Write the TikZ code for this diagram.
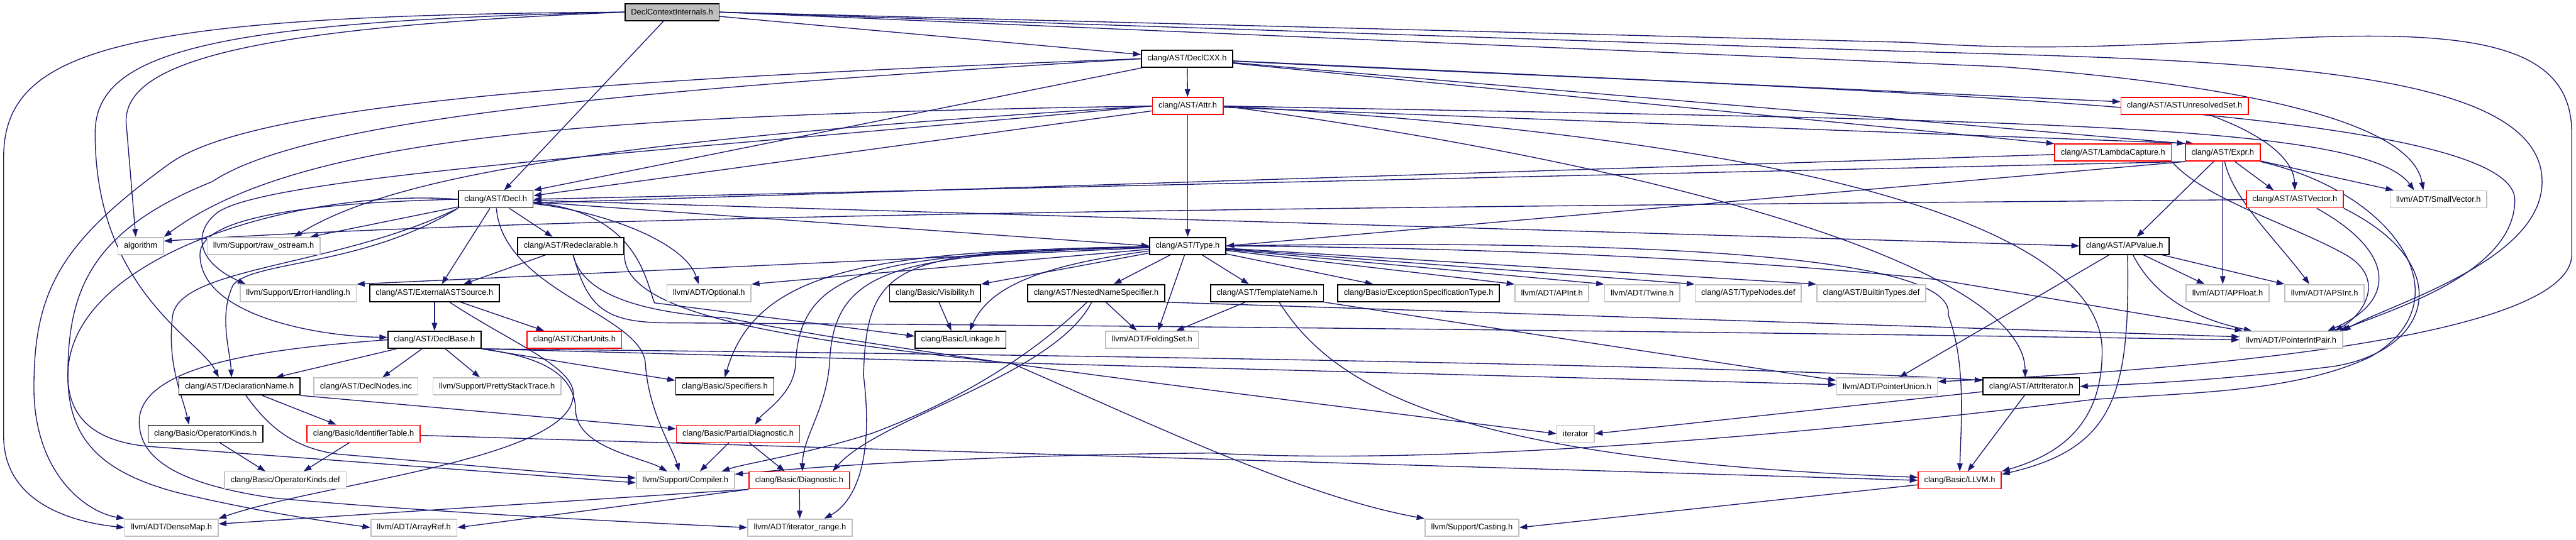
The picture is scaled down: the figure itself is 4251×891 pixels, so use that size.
\documentclass[tikz,border=0pt]{standalone}
\usepackage{fontspec}
\setmainfont{Liberation Sans}
\usepackage{tikz}
\usetikzlibrary{arrows.meta,backgrounds}
\definecolor{EdgeNavy}{HTML}{191970}
\definecolor{RootGrey}{HTML}{BFBFBF}
\definecolor{ExtGrey}{HTML}{BFBFBF}
\definecolor{CutRed}{HTML}{FF0000}

\begin{document}
\begin{tikzpicture}[x=0.01cm,y=-0.01cm,
  hdr/.style={font=\fontsize{3.8}{4.6}\selectfont,minimum height=0.28cm,inner xsep=0.1cm,inner ysep=0pt,line width=0.5pt,fill=white},
  root/.style={hdr,draw=black,fill=RootGrey},
  doc/.style={hdr,draw=black},
  ext/.style={hdr,draw=ExtGrey},
  cut/.style={hdr,draw=CutRed},
  dep/.style={EdgeNavy,line width=0.4pt,-{Triangle[length=0.13cm,width=0.09cm]}}]
  \useasboundingbox (0,0) rectangle (4251,891);
  \node[root] (dci) at (1109,20) {DeclContextInternals.h};
  \node[doc] (declcxx) at (1959,97) {clang/AST/DeclCXX.h};
  \node[cut] (attr) at (1960,175) {clang/AST/Attr.h};
  \node[cut] (unres) at (3605,175) {clang/AST/ASTUnresolvedSet.h};
  \node[cut] (lambda) at (3487,252) {clang/AST/LambdaCapture.h};
  \node[cut] (expr) at (3668,252) {clang/AST/Expr.h};
  \node[doc] (decl) at (818,329) {clang/AST/Decl.h};
  \node[cut] (astvec) at (3787,329) {clang/AST/ASTVector.h};
  \node[ext] (smallvec) at (4024,329) {llvm/ADT/SmallVector.h};
  \node[ext] (algorithm) at (232,406) {algorithm};
  \node[ext] (rawos) at (435,406) {llvm/Support/raw\_ostream.h};
  \node[doc] (redecl) at (942,406) {clang/AST/Redeclarable.h};
  \node[doc] (type) at (1960,406) {clang/AST/Type.h};
  \node[doc] (apvalue) at (3506,406) {clang/AST/APValue.h};
  \node[ext] (errh) at (492,484) {llvm/Support/ErrorHandling.h};
  \node[doc] (extsrc) at (717,484) {clang/AST/ExternalASTSource.h};
  \node[ext] (optional) at (1170,484) {llvm/ADT/Optional.h};
  \node[doc] (visib) at (1543,484) {clang/Basic/Visibility.h};
  \node[doc] (nns) at (1809,484) {clang/AST/NestedNameSpecifier.h};
  \node[doc] (tmplname) at (2091,484) {clang/AST/TemplateName.h};
  \node[doc] (exspec) at (2341,484) {clang/Basic/ExceptionSpecificationType.h};
  \node[ext] (apint) at (2561,484) {llvm/ADT/APInt.h};
  \node[ext] (twine) at (2710,484) {llvm/ADT/Twine.h};
  \node[ext] (typenodes) at (2885,484) {clang/AST/TypeNodes.def};
  \node[ext] (builtin) at (3088,484) {clang/AST/BuiltinTypes.def};
  \node[ext] (apfloat) at (3676,484) {llvm/ADT/APFloat.h};
  \node[ext] (apsint) at (3836,484) {llvm/ADT/APSInt.h};
  \node[doc] (declbase) at (717,561) {clang/AST/DeclBase.h};
  \node[cut] (charunits) at (948,561) {clang/AST/CharUnits.h};
  \node[doc] (linkage) at (1585,561) {clang/Basic/Linkage.h};
  \node[ext] (foldset) at (1901,561) {llvm/ADT/FoldingSet.h};
  \node[ext] (ptrintpair) at (3781,561) {llvm/ADT/PointerIntPair.h};
  \node[doc] (declname) at (395,638) {clang/AST/DeclarationName.h};
  \node[ext] (declnodes) at (604,638) {clang/AST/DeclNodes.inc};
  \node[ext] (prettystack) at (820,638) {llvm/Support/PrettyStackTrace.h};
  \node[doc] (specifiers) at (1196,638) {clang/Basic/Specifiers.h};
  \node[ext] (ptrunion) at (3114,638) {llvm/ADT/PointerUnion.h};
  \node[doc] (attriter) at (3352,638) {clang/AST/AttrIterator.h};
  \node[doc] (opkinds) at (339,716) {clang/Basic/OperatorKinds.h};
  \node[cut] (identtable) at (600,716) {clang/Basic/IdentifierTable.h};
  \node[cut] (partdiag) at (1218,716) {clang/Basic/PartialDiagnostic.h};
  \node[ext] (iterator) at (2600,716) {iterator};
  \node[ext] (opkindsdef) at (471,793) {clang/Basic/OperatorKinds.def};
  \node[ext] (compiler) at (1131,793) {llvm/Support/Compiler.h};
  \node[cut] (diag) at (1319,793) {clang/Basic/Diagnostic.h};
  \node[cut] (llvmh) at (3234,793) {clang/Basic/LLVM.h};
  \node[ext] (densemap) at (283,871) {llvm/ADT/DenseMap.h};
  \node[ext] (arrayref) at (683,871) {llvm/ADT/ArrayRef.h};
  \node[ext] (iterrange) at (1320,871) {llvm/ADT/iterator\_range.h};
  \node[ext] (casting) at (2429,871) {llvm/Support/Casting.h};
  \begin{scope}[on background layer]
  \fill[white] (0,0) rectangle (4251,891);
  \draw[dep] (dci) -- ([yshift=0.07cm]declcxx.west);
  \draw[dep] (dci) -- (decl);
  \draw[dep] (dci.west) .. controls (420,45) and (208,100) .. (208,200) -- ([xshift=-0.08cm]algorithm.north);
  \draw[dep] (dci.west) .. controls (330,35) and (157,90) .. (157,220) .. controls (157,480) and (330,560) .. ([xshift=-0.34cm]declname.north);
  \draw[dep] (dci.west) .. controls (200,25) and (6,80) .. (6,260) -- (6,720) .. controls (6,820) and (100,860) .. (densemap.west);
  \draw[dep] (dci.east) -- (3300,110) .. controls (3700,140) and (3980,200) .. ([xshift=-0.25cm]smallvec.north);
  \draw[dep] (dci.east) -- (3150,85) .. controls (3700,100) and (4195,110) .. (4195,300) .. controls (4195,430) and (3950,500) .. ([xshift=0.85cm]ptrintpair.north);
  \draw[dep] (dci.east) -- (3150,70) .. controls (3380,85) and (3500,75) .. (3800,62) .. controls (4100,50) and (4244,80) .. (4244,220) -- (4244,420) .. controls (4244,560) and (3600,612) .. ([yshift=0.08cm]ptrunion.east);
  \draw[dep] (declcxx) -- (attr);
  \draw[dep] (declcxx) -- ([yshift=0.07cm]unres.west);
  \draw[dep] (declcxx) -- (lambda.north west);
  \draw[dep] (declcxx) -- (expr.north west);
  \draw[dep] (declcxx) -- (decl.north east);
  \draw[dep] (declcxx.west) .. controls (1000,130) and (420,170) .. (280,270) .. controls (100,400) and (56,480) .. (56,640) .. controls (56,780) and (140,845) .. (densemap.north west);
  \draw[dep] (declcxx.west) .. controls (1000,150) and (500,200) .. (350,300) .. controls (150,380) and (112,480) .. (112,620) .. controls (112,700) and (170,730) .. (245,737) -- ([yshift=-0.04cm]compiler.west);
  \draw[dep] (declcxx) .. controls (3000,150) and (4150,170) .. (4150,330) .. controls (4150,450) and (3950,510) .. ([xshift=0.8cm]ptrintpair.north);
  \draw[dep] (attr) -- (type);
  \draw[dep] (attr) -- ([yshift=0.06cm]decl.east);
  \draw[dep] (attr) -- ([xshift=0.15cm]expr.north west);
  \draw[dep] (attr.west) .. controls (1000,190) and (500,220) .. (algorithm.north east);
  \draw[dep] (attr.west) .. controls (1000,230) and (650,290) .. ([xshift=0.5cm]rawos.north);
  \draw[dep] (attr.west) .. controls (1100,250) and (450,290) .. (360,350) .. controls (320,380) and (320,430) .. ([xshift=0.1cm]errh.north west);
  \draw[dep] (attr.east) .. controls (3300,200) and (3900,200) .. ([xshift=-0.4cm]smallvec.north);
  \draw[dep] (attr.east) .. controls (2800,280) and (3340,450) .. ([xshift=-0.1cm]attriter.north);
  \draw[dep] (attr.east) .. controls (3000,230) and (3470,380) .. (3469,580) .. controls (3469,700) and (3400,750) .. (llvmh.north east);
  \draw[dep] (expr.south west) -- (decl.east);
  \draw[dep] (expr.south west) -- (type.east);
  \draw[dep] (expr) -- ([xshift=0.2cm]apvalue.north);
  \draw[dep] (expr) -- ([xshift=-0.08cm]apfloat.north);
  \draw[dep] (expr) .. controls (3685,330) and (3760,400) .. ([xshift=-0.25cm]apsint.north);
  \draw[dep] (expr) -- ([xshift=-0.35cm]astvec.north);
  \draw[dep] (expr) -- ([xshift=-0.74cm]smallvec.north);
  \draw[dep] (expr.south east) .. controls (3960,320) and (4070,500) .. (3910,590) .. controls (3780,650) and (3600,648) .. (3450,660) .. controls (3000,715) and (2400,770) .. (2000,748) .. controls (1700,750) and (1400,765) .. ([yshift=0.1cm]compiler.east);
  \draw[dep] (lambda) -- ([yshift=-0.06cm]decl.east);
  \draw[dep] (lambda.south east) .. controls (3640,330) and (3780,370) .. (3870,420) .. controls (3940,460) and (3900,520) .. ([xshift=0.72cm]ptrintpair.north);
  \draw[dep] (unres) .. controls (3730,220) and (3785,260) .. (astvec.north);
  \draw[dep] (astvec) .. controls (2500,340) and (1000,350) .. ([yshift=0.08cm]algorithm.east);
  \draw[dep] ([xshift=0.36cm]astvec.south) .. controls (3960,420) and (3950,500) .. ([xshift=0.6cm]ptrintpair.north);
  \draw[dep] (astvec.south east) .. controls (4060,440) and (4010,580) .. (3850,605) .. controls (3650,630) and (3500,635) .. (attriter.east);
  \draw[dep] (apvalue) -- ([xshift=-0.38cm]apfloat.north);
  \draw[dep] (apvalue) -- (apsint.north west);
  \draw[dep] ([xshift=0.14cm]apvalue.south) .. controls (3560,500) and (3640,530) .. ([xshift=-0.65cm]ptrintpair.north);
  \draw[dep] ([xshift=0.05cm]apvalue.south) .. controls (3515,650) and (3490,740) .. ([yshift=0.1cm]llvmh.east);
  \draw[dep] (apvalue) -- ([xshift=0.2cm]ptrunion.north);
  \draw[dep] (type) -- (errh.north east);
  \draw[dep] (type) -- (optional.north east);
  \draw[dep] (type) -- (visib.north east);
  \draw[dep] (type) .. controls (1700,440) and (1630,480) .. ([xshift=0.15cm]linkage.north);
  \draw[dep] (type) -- (nns);
  \draw[dep] (type) -- ([xshift=0.1cm]foldset.north);
  \draw[dep] (type) -- ([xshift=-0.3cm]tmplname.north);
  \draw[dep] (type) -- ([xshift=-0.75cm]exspec.north);
  \foreach \t in {apint,twine,typenodes,builtin}{\draw[dep] (type) -- (\t.north west);}
  \draw[dep] (type) .. controls (1450,415) and (1250,440) .. (specifiers.north);
  \draw[dep] (type) .. controls (1450,420) and (1320,440) .. (1313,600) .. controls (1311,650) and (1260,680) .. ([xshift=0.28cm]partdiag.north);
  \draw[dep] (type) .. controls (1480,420) and (1375,440) .. (1369,600) .. controls (1362,680) and (1325,720) .. ([xshift=0.05cm]diag.north);
  \draw[dep] (type) .. controls (1480,415) and (1430,430) .. (1425,620) .. controls (1445,780) and (1400,835) .. ([xshift=0.4cm]iterrange.north);
  \draw[dep] (type.east) .. controls (2600,410) and (3000,440) .. (3200,462) -- ([xshift=-0.8cm]ptrintpair.north);
  \draw[dep] (type.east) .. controls (2700,395) and (3230,420) .. (3215,520) .. controls (3245,600) and (3236,700) .. (llvmh.north);
  \draw[dep] (nns) -- ([xshift=-0.25cm]foldset.north);
  \draw[dep] (nns.south east) -- ([yshift=0.05cm]ptrintpair.west);
  \draw[dep] (nns) .. controls (1690,600) and (1560,670) .. (1440,715) .. controls (1330,750) and (1230,765) .. ([xshift=0.6cm]compiler.north);
  \draw[dep] (nns) .. controls (1740,620) and (1450,690) .. ([xshift=0.55cm]diag.north);
  \draw[dep] (tmplname) -- ([xshift=0.4cm]foldset.north);
  \draw[dep] (tmplname.south east) -- ([yshift=0.1cm]ptrunion.west);
  \draw[dep] ([xshift=0.2cm]tmplname.south) .. controls (2200,640) and (2400,760) .. ([yshift=0.05cm]llvmh.west);
  \draw[dep] (visib) -- ([xshift=-0.15cm]linkage.north);
  \draw[dep] (decl) -- ([xshift=0.77cm]rawos.north);
  \draw[dep] (decl) -- ([xshift=-0.3cm]redecl.north);
  \draw[dep] (decl) -- ([xshift=0.12cm]extsrc.north);
  \draw[dep] (decl) -- (type.west);
  \draw[dep] (decl) -- (apvalue.west);
  \draw[dep] (decl) .. controls (1000,350) and (1130,400) .. ([xshift=-0.17cm]optional.north);
  \draw[dep] (decl) .. controls (1050,350) and (1065,460) .. (1080,500) -- ([yshift=0.06cm]linkage.west);
  \draw[dep] (decl.west) .. controls (500,335) and (330,360) .. (330,420) .. controls (330,520) and (520,555) .. ([yshift=0.04cm]declbase.west);
  \draw[dep] (decl.south west) .. controls (600,440) and (420,430) .. (385,470) .. controls (360,520) and (380,580) .. ([xshift=-0.13cm]declname.north);
  \draw[dep] (decl.south west) .. controls (560,440) and (300,440) .. (285,520) .. controls (275,600) and (300,650) .. ([xshift=-0.27cm]opkinds.north);
  \draw[dep] (decl) .. controls (830,480) and (1060,520) .. (1065,600) .. controls (1070,680) and (1110,740) .. ([xshift=-0.1cm]compiler.north);
  \draw[dep] (decl.west) .. controls (500,310) and (112,420) .. (112,620) .. controls (112,720) and (160,780) .. (300,815) .. controls (450,850) and (550,862) .. (arrayref.west);
  \draw[dep] (redecl) -- ([xshift=0.48cm]extsrc.north);
  \draw[dep] (redecl) .. controls (970,510) and (1000,532) .. (1100,533) .. controls (2000,538) and (3000,550) .. (ptrintpair.west);
  \draw[dep] (redecl.south east) .. controls (1030,520) and (1300,560) .. (1670,600) .. controls (1900,700) and (2150,820) .. (casting.north west);
  \draw[dep] (redecl) .. controls (960,480) and (1040,515) .. (1200,525) .. controls (1450,575) and (1800,620) .. (iterator.west);
  \draw[dep] (extsrc) -- (declbase);
  \draw[dep] (extsrc) -- ([xshift=-0.5cm]charunits.north);
  \draw[dep] ([xshift=0.25cm]extsrc.south) .. controls (850,570) and (960,610) .. (945,660) .. controls (925,760) and (520,800) .. (densemap.north east);
  \draw[dep] (declbase) -- ([xshift=0.6cm]declname.north);
  \draw[dep] (declbase) -- ([xshift=0.27cm]declnodes.north);
  \draw[dep] (declbase) -- ([xshift=-0.28cm]prettystack.north);
  \draw[dep] (declbase.south east) -- ([yshift=0.1cm]specifiers.west);
  \draw[dep] (declbase.south east) .. controls (900,590) and (950,620) .. (950,680) .. controls (955,740) and (1060,755) .. ([xshift=-0.3cm]compiler.north);
  \draw[dep] (declbase.south east) -- ([yshift=0.03cm]ptrunion.west);
  \draw[dep] (declbase.south east) .. controls (2200,590) and (3000,610) .. ([yshift=0.1cm]attriter.west);
  \draw[dep] (declbase.west) .. controls (450,575) and (240,600) .. (230,690) .. controls (225,760) and (300,800) .. (450,822) .. controls (700,845) and (1000,860) .. (iterrange.west);
  \draw[dep] (declname) -- ([xshift=-0.45cm]identtable.north);
  \draw[dep] (declname.south east) -- ([yshift=0.08cm]partdiag.west);
  \draw[dep] (declname) .. controls (440,700) and (480,740) .. (560,750) .. controls (800,770) and (950,785) .. ([yshift=0.04cm]compiler.west);
  \draw[dep] (opkinds) -- ([xshift=-0.33cm]opkindsdef.north);
  \draw[dep] (identtable) -- ([xshift=0.3cm]opkindsdef.north);
  \draw[dep] (identtable) -- (llvmh.west);
  \draw[dep] (partdiag) -- ([xshift=0.24cm]compiler.north);
  \draw[dep] (partdiag) -- ([xshift=-0.24cm]diag.north);
  \draw[dep] (diag) -- (iterrange);
  \draw[dep] (diag.south west) -- ([yshift=0.06cm]densemap.east);
  \draw[dep] (diag.south west) -- (arrayref.east);
  \draw[dep] (attriter) -- ([xshift=0.13cm]llvmh.north);
  \draw[dep] (attriter) -- (iterator.east);
  \draw[dep] (llvmh) -- (casting.east);
  \end{scope}
\end{tikzpicture}
\end{document}
